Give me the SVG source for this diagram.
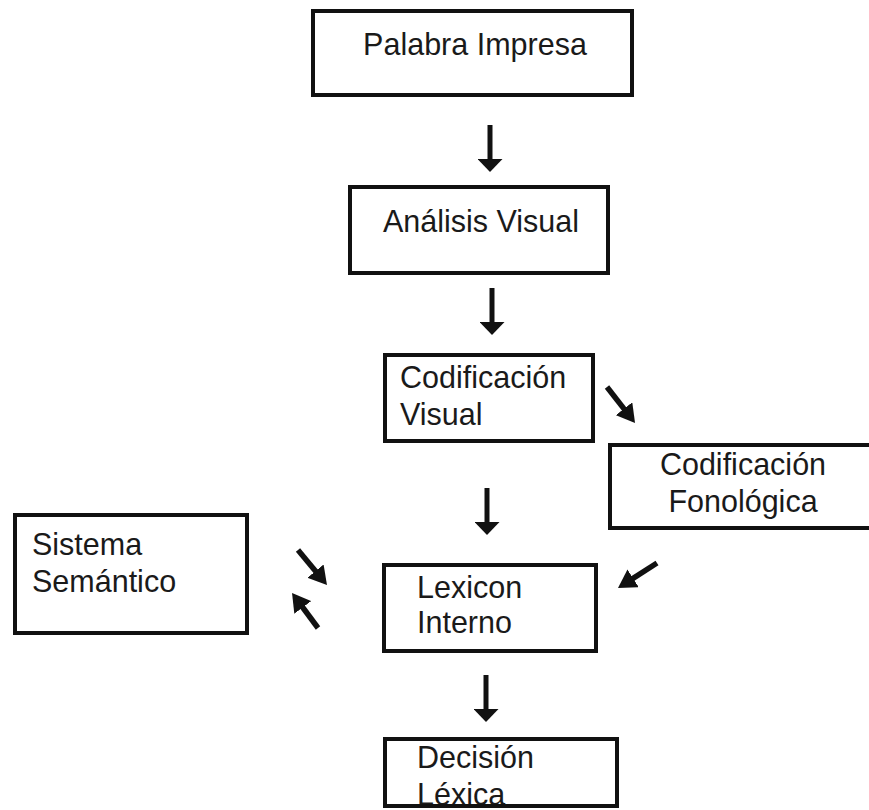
<svg xmlns="http://www.w3.org/2000/svg" width="869" height="810" viewBox="0 0 869 810">
<defs>
<style>
.box{fill:none;stroke:#111;stroke-width:4}
.t{font-family:"Liberation Sans",Arial,sans-serif;font-size:30.5px;fill:#1a1a1a}
.c{text-anchor:middle}
.v{stroke:#111;stroke-width:5;fill:none;marker-end:url(#hv)}
.d{stroke:#111;stroke-width:5.5;fill:none;marker-end:url(#hd)}
</style>
<marker id="hv" viewBox="0 0 13 25" markerWidth="13" markerHeight="25" refX="2" refY="12.5" orient="auto" markerUnits="userSpaceOnUse">
<path d="M0,0 L13,12.5 L0,25 Z" fill="#111"/>
</marker>
<marker id="hd" viewBox="0 0 18 21" markerWidth="18" markerHeight="21" refX="8" refY="10.5" orient="auto" markerUnits="userSpaceOnUse">
<path d="M0,0 L18,10.5 L0,21 Z" fill="#111"/>
</marker>
</defs>
<rect width="869" height="810" fill="#fff"/>
<g id="palabra-impresa">
<text class="t c" x="475" y="55">Palabra Impresa</text>
<rect class="box" x="313" y="11" width="319" height="84"/>
</g>
<g id="analisis-visual">
<text class="t c" x="481" y="232">Análisis Visual</text>
<rect class="box" x="350" y="187" width="258" height="86"/>
</g>
<g id="codificacion-visual">
<text class="t" x="400" y="388">Codificación</text>
<text class="t" x="400" y="425">Visual</text>
<rect class="box" x="385" y="355" width="208" height="86"/>
</g>
<g id="codificacion-fonologica">
<text class="t c" x="743" y="475">Codificación</text>
<text class="t c" x="743" y="512">Fonológica</text>
<rect class="box" x="610" y="445" width="264" height="83"/>
</g>
<g id="sistema-semantico">
<text class="t" x="32" y="555">Sistema</text>
<text class="t" x="32" y="592">Semántico</text>
<rect class="box" x="15" y="515" width="232" height="118"/>
</g>
<g id="lexicon-interno">
<text class="t" x="417" y="598">Lexicon</text>
<text class="t" x="417" y="633">Interno</text>
<rect class="box" x="384" y="565" width="212" height="86"/>
</g>
<g id="decision-lexica">
<text class="t" x="417" y="768">Decisión</text>
<text class="t" x="417" y="805">Léxica</text>
<rect class="box" x="385" y="739" width="232" height="67"/>
</g>
<g id="connectors">
<line class="v" x1="490" y1="125" x2="490" y2="161"/>
<line class="v" x1="492" y1="288" x2="492" y2="324"/>
<line class="v" x1="487" y1="488" x2="487" y2="524"/>
<line class="v" x1="486" y1="675" x2="486" y2="711"/>
<line class="d" x1="607" y1="387" x2="628.9" y2="415.1"/>
<line class="d" x1="298" y1="550" x2="320.6" y2="577.3"/>
<line class="d" x1="318" y1="628" x2="298" y2="601"/>
<line class="d" x1="657" y1="563" x2="626.4" y2="582.6"/>
</g>
</svg>
